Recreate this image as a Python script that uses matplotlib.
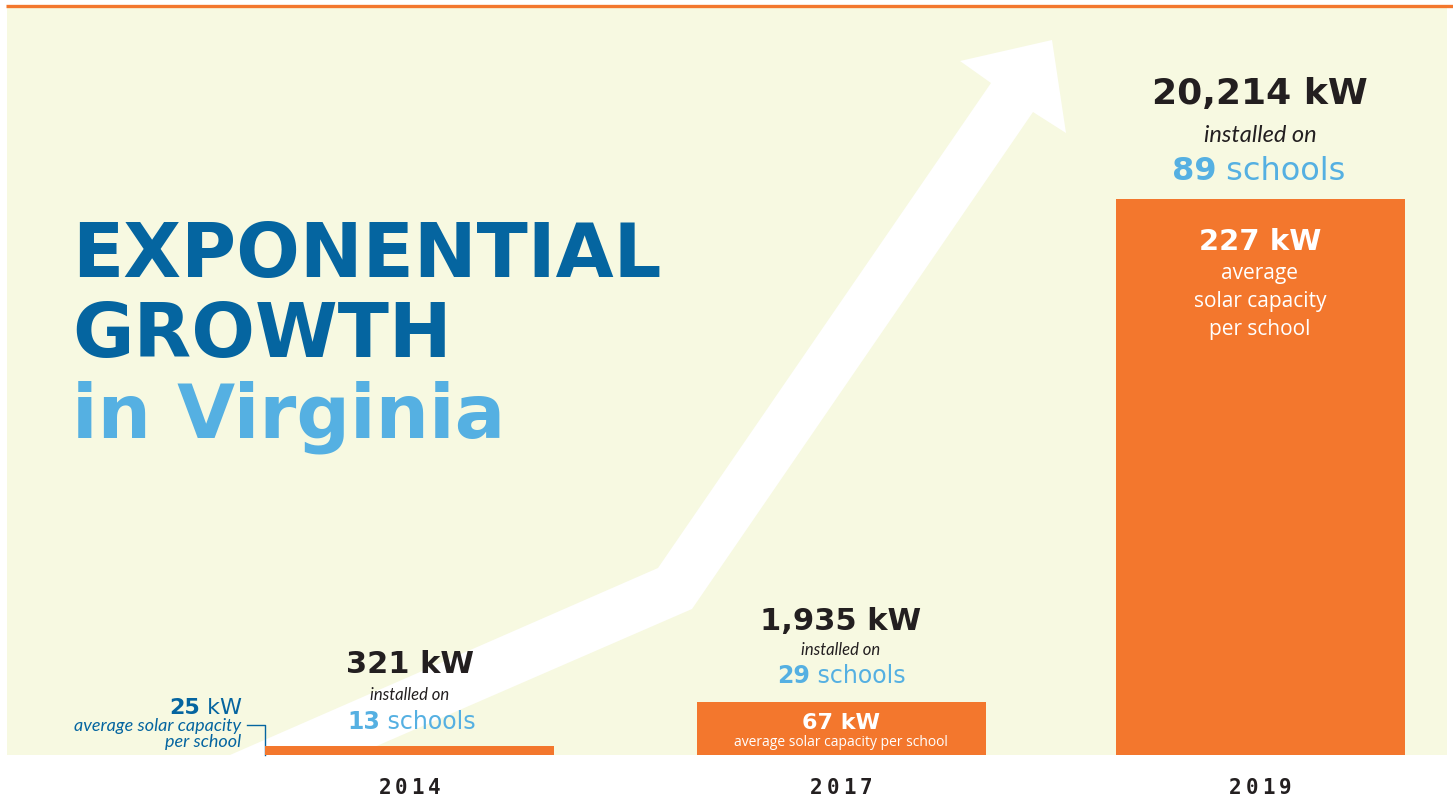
import matplotlib
matplotlib.use('Agg')
import matplotlib.pyplot as plt
from matplotlib.patches import Rectangle, Polygon

years = ['2014', '2017', '2019']
total_kw = [321, 1935, 20214]
schools = [13, 29, 89]
avg_kw = [25, 67, 227]

W, H = 1453, 801
ORANGE = '#F3772D'
PANEL = '#F7F9E1'
DARK_BLUE = '#0565A0'
LIGHT_BLUE = '#55B0E2'
INK = '#231F20'

# layout (pixels)
bar_x = [409.5, 841, 1260]
bar_w = 289
base_y = 755
tallest_px = 556


def put(x, y, s, **kw):
    kw.setdefault('ha', 'center')
    kw.setdefault('va', 'baseline')
    return fig.text(x / W, 1 - y / H, s, **kw)


def spaced(cx, y, s, pitch, **kw):
    n = len(s)
    for i, ch in enumerate(s):
        put(cx + (i - (n - 1) / 2) * pitch, y, ch, **kw)


fig = plt.figure(figsize=(W / 100, H / 100), dpi=100)
fig.patch.set_facecolor('white')

# background: panel, top rule, arrow
bg = fig.add_axes([0, 0, 1, 1])
bg.set_xlim(0, W)
bg.set_ylim(H, 0)
bg.axis('off')
bg.add_patch(Rectangle((7, 6), 1440, base_y - 6, color=PANEL, lw=0))
bg.plot([6, W], [5.5, 5.5], color=ORANGE, lw=2.4, solid_capstyle='butt')
arrow = [(230, 755), (658, 568), (991, 83), (960, 61), (1052, 40),
         (1066, 133), (1033, 112), (692, 609), (356, 755)]
bg.add_patch(Polygon(arrow, closed=True, color='white', lw=0))
# leader line for the 2014 average
bg.plot([247, 265, 265], [725, 725, base_y], color=DARK_BLUE, lw=1)

# bars
ax = fig.add_axes([0, (H - base_y) / H, 1, (base_y - 6) / H])
ax.set_xlim(0, W)
ax.set_ylim(0, max(total_kw) * (base_y - 6) / tallest_px)
ax.axis('off')
ax.patch.set_alpha(0)
ax.bar(bar_x, total_kw, width=bar_w, color=ORANGE, linewidth=0)

# title
title_kw = dict(ha='left', fontfamily='DejaVu Sans', fontweight='bold', fontsize=54)
put(72, 277, 'EXPONENTIAL', color=DARK_BLUE, **title_kw)
put(72, 357, 'GROWTH', color=DARK_BLUE, **title_kw)
put(72, 437, 'in Virginia', color=LIGHT_BLUE, **title_kw)

# totals above the bars
big = dict(fontfamily='DejaVu Sans', fontweight='bold', color=INK)
put(bar_x[2], 104, f'{total_kw[2]:,} kW', fontsize=26, **big)
put(bar_x[1], 630, f'{total_kw[1]:,} kW', fontsize=22, **big)
put(bar_x[0], 673, f'{total_kw[0]:,} kW', fontsize=22, **big)

ital = dict(fontfamily='Lato', style='italic', color=INK)
put(bar_x[2], 142, 'installed on', fontsize=17, **ital)
put(bar_x[1], 655, 'installed on', fontsize=12, **ital)
put(bar_x[0], 700, 'installed on', fontsize=12, **ital)

# school counts: bold number + regular word
splits = [(380, 729, 17), (810, 683, 17), (1216, 180, 23)]
for (sx, sy, fs), n in zip(splits, schools):
    put(sx, sy, str(n), ha='right', fontsize=fs, fontfamily='DejaVu Sans',
        fontweight='bold', color=LIGHT_BLUE)
    put(sx, sy, ' schools', ha='left', fontsize=fs, fontfamily='DejaVu Sans',
        color=LIGHT_BLUE)

# averages
white_bold = dict(fontfamily='DejaVu Sans', fontweight='bold', color='white')
white = dict(fontfamily='Open Sans', color='white')
put(bar_x[2], 250, f'{avg_kw[2]} kW', fontsize=21, **white_bold)
put(bar_x[2], 279, 'average', fontsize=15, **white)
put(bar_x[2], 307, 'solar capacity', fontsize=15, **white)
put(bar_x[2], 335, 'per school', fontsize=15, **white)

put(bar_x[1], 729, f'{avg_kw[1]} kW', fontsize=16, **white_bold)
put(bar_x[1], 746, 'average solar capacity per school', fontsize=10, **white)

put(200, 714, str(avg_kw[0]), ha='right', fontsize=16, fontfamily='DejaVu Sans',
    fontweight='bold', color=DARK_BLUE)
put(200, 714, ' kW', ha='left', fontsize=16, fontfamily='DejaVu Sans', color=DARK_BLUE)
put(241, 731, 'average solar capacity', ha='right', fontsize=13,
    fontfamily='Lato', style='italic', color=DARK_BLUE)
put(241, 747, 'per school', ha='right', fontsize=13,
    fontfamily='Lato', style='italic', color=DARK_BLUE)

# years
for x, yr in zip(bar_x, years):
    spaced(x, 794, yr, 16.5, fontsize=15, fontfamily='DejaVu Sans Mono',
           fontweight='bold', color=INK)

fig.savefig('out.png', dpi=100, facecolor='white')
